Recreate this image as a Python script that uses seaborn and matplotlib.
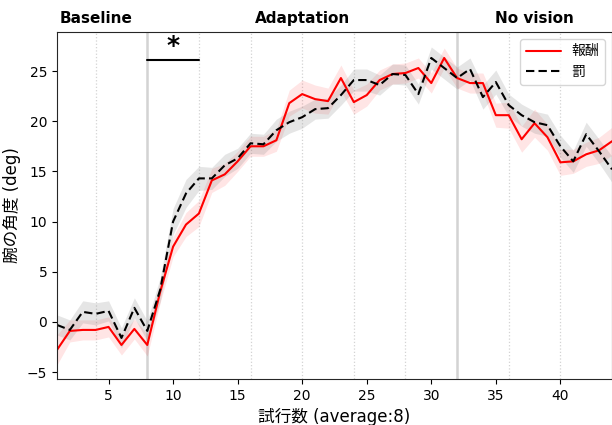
import numpy as np
import pandas as pd
import seaborn as sns
import matplotlib.pyplot as plt

# trial bins (average of 8 trials)
trials = list(range(1, 45))

# 報酬 (reward) mean and se
reward_mean = [-2.8, -0.9, -0.8, -0.8, -0.5, -2.3, -0.7, -2.3, 3.0, 7.5,
               9.7, 10.8, 14.1, 14.7, 16.0, 17.5, 17.5, 18.1, 21.8, 22.7,
               22.2, 22.0, 24.3, 21.9, 22.6, 24.1, 24.7, 24.8, 25.3, 23.8,
               26.3, 24.3, 23.8, 23.8, 20.6, 20.6, 18.2, 19.8, 18.4, 15.9,
               16.0, 16.7, 17.1, 18.0]
reward_se = [1.5, 1.1, 1.0, 1.0, 1.0, 1.0, 1.0, 1.1, 1.1, 1.0,
             1.2, 1.3, 1.2, 1.1, 1.0, 1.0, 1.0, 1.1, 1.3, 1.4,
             1.4, 1.3, 1.3, 1.2, 1.1, 1.0, 1.0, 1.0, 1.0, 1.0,
             1.0, 1.0, 1.0, 1.0, 1.2, 1.3, 1.3, 1.4, 1.3, 1.3,
             1.2, 1.2, 1.3, 1.4]

# 罰 (punishment) mean and se
punish_mean = [-0.3, -0.8, 1.0, 0.8, 1.1, -1.6, 1.4, -0.9, 3.2, 10.0,
               12.8, 14.3, 14.3, 15.6, 16.3, 17.8, 17.7, 19.1, 19.9, 20.4,
               21.2, 21.3, 22.6, 24.1, 24.1, 23.6, 24.7, 24.6, 22.7, 26.3,
               25.3, 24.3, 25.2, 22.4, 23.9, 21.6, 20.6, 19.9, 19.6, 17.5,
               16.0, 18.7, 17.0, 15.2]
punish_se = [1.0, 1.0, 1.1, 1.1, 1.0, 1.0, 1.0, 1.0, 1.2, 1.3,
             1.4, 1.2, 1.1, 1.1, 1.0, 1.0, 1.0, 1.1, 1.1, 1.1,
             1.0, 1.0, 1.0, 1.1, 1.1, 1.0, 1.0, 1.0, 1.0, 1.1,
             1.1, 1.1, 1.1, 1.2, 1.2, 1.1, 1.1, 1.1, 1.1, 1.1,
             1.1, 1.2, 1.2, 1.3]

phase_labels = ['Baseline', 'Adaptation', 'No vision']
phase_label_x = [4, 20, 38]
phase_bounds = [8, 32]
grid_x = [4, 12, 16, 20, 24, 28, 36, 40]

sns.set_style('ticks')
plt.rcParams['font.family'] = ['DejaVu Sans', 'Noto Sans CJK JP']
for k in ['text.color', 'axes.labelcolor', 'xtick.color', 'ytick.color']:
    plt.rcParams[k] = 'black'

df = pd.DataFrame({'trial': trials * 2,
                   'angle': reward_mean + punish_mean,
                   'cond': ['報酬'] * len(trials) + ['罰'] * len(trials)})

fig = plt.figure(figsize=(6.12, 4.25), dpi=100)
ax = fig.add_axes([0.093, 0.108, 0.907, 0.817])

for gx in grid_x:
    ax.axvline(gx, color='lightgrey', ls=':', lw=0.9, zorder=0)
for bx in phase_bounds:
    ax.axvline(bx, color='lightgrey', ls='-', lw=1.8, zorder=0)

rm, rs = np.array(reward_mean), np.array(reward_se)
pm, ps = np.array(punish_mean), np.array(punish_se)
ax.fill_between(trials, rm - rs, rm + rs, color='red', alpha=0.1, lw=0)
ax.fill_between(trials, pm - ps, pm + ps, color='grey', alpha=0.2, lw=0)

sns.lineplot(data=df, x='trial', y='angle', hue='cond', style='cond',
             palette={'報酬': 'red', '罰': 'black'},
             dashes={'報酬': '', '罰': (4, 2)}, lw=1.5, ax=ax)

ax.set_xlim(1, 44)
ax.set_ylim(-5.7, 28.9)
ax.set_xticks([5, 10, 15, 20, 25, 30, 35, 40])
ax.set_yticks([-5, 0, 5, 10, 15, 20, 25])
ax.tick_params(labelsize=10)
ax.set_xlabel('試行数 (average:8)', fontsize=12)
ax.set_ylabel('腕の角度 (deg)', fontsize=12)

for lab, lx in zip(phase_labels, phase_label_x):
    ax.text(lx, 29.5, lab, ha='center', va='bottom', fontsize=11,
            fontweight='bold')

# significance bar
ax.plot([8, 12], [26.1, 26.1], color='black', lw=1.5)
ax.text(10, 26.3, '*', ha='center', va='bottom', fontsize=18,
        fontweight='bold')

leg = ax.legend(loc='upper right', fontsize=10, handlelength=2.5)
leg.set_title(None)

fig.savefig('out.png', dpi=100)
